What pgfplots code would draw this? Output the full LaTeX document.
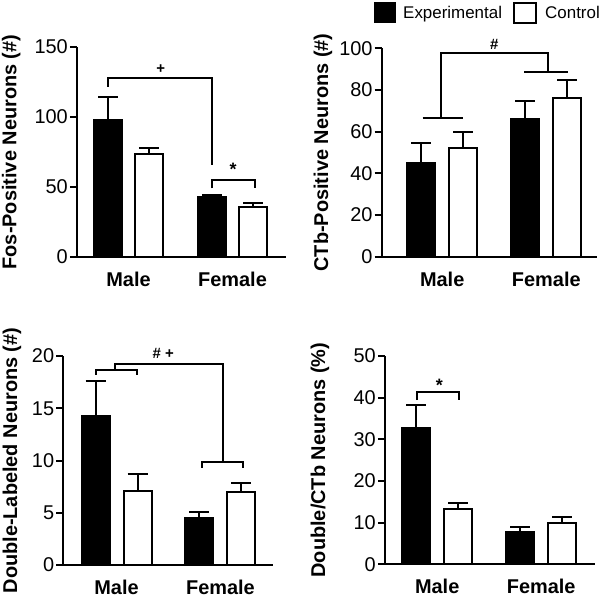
\documentclass[border=0pt]{standalone}
\usepackage{fontspec}
\setmainfont{Liberation Sans}
\usepackage{pgfplots}
\pgfplotsset{compat=1.18}

\pgfplotsset{
  panel/.style={
    scale only axis,
    axis x line=bottom, axis y line=left,
    axis line style={-, line width=2bp},
    enlargelimits=false,
    clip=false,
    xtick={0,1}, xticklabels={Male,Female},
    x tick label style={font=\fontsize{20}{24}\selectfont\bfseries, inner sep=0pt, anchor=north, yshift=-8bp},
    major x tick style={draw=none},
    y tick label style={font=\fontsize{20}{24}\selectfont, inner sep=0pt, xshift=-2bp},
    tick align=outside,
    major tick length=7bp,
    y tick style={line width=2bp, black},
    ymin=0,
    /pgf/number format/assume math mode=true,
  },
  ylab/.style={every axis y label/.style={at={(axis description cs:#1,0.5)}, rotate=90, anchor=center,
    font=\fontsize{20}{24}\selectfont\bfseries}},
  expbar/.style={ybar, fill=black, draw=black, line width=2bp, bar width=28bp, bar shift=0pt,
    error bars/y dir=plus, error bars/y explicit,
    error bars/error bar style={line width=2bp, black},
    error bars/error mark options={line width=2bp, black, mark size=10bp, rotate=90}},
  ctlbar/.style={ybar, fill=white, draw=black, line width=2bp, bar width=28bp, bar shift=0pt,
    error bars/y dir=plus, error bars/y explicit,
    error bars/error bar style={line width=2bp, black},
    error bars/error mark options={line width=2bp, black, mark size=10bp, rotate=90}},
  brk/.style={line width=2bp, black, no markers, sharp plot, forget plot},
}
\tikzset{
  sig/.style={font=\fontsize{15}{18}\selectfont\bfseries, inner sep=0pt},
  star/.style={font=\fontsize{18}{20}\selectfont\bfseries, inner sep=0pt},
}

\begin{document}
\begin{tikzpicture}
\useasboundingbox (0,0) rectangle (600bp,-599bp);

% Legend
\fill[black] (374bp,-2bp) rectangle (396bp,-23bp);
\node[anchor=base west, font=\fontsize{17}{20}\selectfont, inner sep=0pt] at (403bp,-18.5bp) {Experimental};
\draw[line width=2bp] (514bp,-3bp) rectangle (536bp,-23bp);
\node[anchor=base west, font=\fontsize{17}{20}\selectfont, inner sep=0pt] at (545bp,-18.5bp) {Control};

% Panel A
\begin{axis}[panel, ylab=-0.315,
  at={(77bp,-257bp)}, anchor=south west, width=209bp, height=210bp,
  xmin=-0.495, xmax=1.514, ymax=150, ytick={0,50,100,150},
  ylabel={Fos-Positive Neurons (\#)}]
\addplot[expbar] coordinates {(-0.197,98) +- (0,16.5) (0.803,42.6) +- (0,1.7)};
\addplot[ctlbar] coordinates {(0.197,73.6) +- (0,4.0) (1.197,35.9) +- (0,2.4)};
\addplot[brk] coordinates {(-0.197,121.6) (-0.197,128.1) (0.803,128.1) (0.803,65.7)};
\addplot[brk] coordinates {(0.803,49) (0.803,55) (1.216,55) (1.216,49)};
\node[sig] at (axis cs:0.31,134.5) {+};
\node[star] at (axis cs:1.005,62.5) {*};
\end{axis}

% Panel B
\begin{axis}[panel, ylab=-0.273,
  at={(381.7bp,-256.7bp)}, anchor=south west, width=215bp, height=208.4bp,
  xmin=-0.581, xmax=1.484, ymax=100, ytick={0,20,40,60,80,100},
  ylabel={CTb-Positive Neurons (\#)}]
\addplot[expbar] coordinates {(-0.201,44.8) +- (0,9.6) (0.799,66) +- (0,8.7)};
\addplot[ctlbar] coordinates {(0.201,52.3) +- (0,7.7) (1.201,76) +- (0,8.8)};
\addplot[brk] coordinates {(-0.187,66.7) (0.197,66.7)};
\addplot[brk] coordinates {(-0.014,66.7) (-0.014,97.6) (1.019,97.6) (1.019,88.8)};
\addplot[brk] coordinates {(0.786,88.8) (1.206,88.8)};
\node[sig, anchor=base] at (axis cs:0.50,99.2) {\#};
\end{axis}

% Panel C
\begin{axis}[panel, ylab=-0.244,
  at={(63.3bp,-565bp)}, anchor=south west, width=210bp, height=209bp,
  xmin=-0.512, xmax=1.508, ymax=20, ytick={0,5,10,15,20},
  ylabel={Double-Labeled Neurons (\#)}]
\addplot[expbar] coordinates {(-0.202,14.26) +- (0,3.34) (0.798,4.47) +- (0,0.57)};
\addplot[ctlbar] coordinates {(0.202,7.05) +- (0,1.65) (1.202,6.96) +- (0,0.92)};
\addplot[brk] coordinates {(-0.2,18.2) (-0.2,18.7) (0.194,18.7) (0.194,18.2)};
\addplot[brk] coordinates {(-0.014,18.7) (-0.014,19.2) (1.021,19.2) (1.021,9.9)};
\addplot[brk] coordinates {(0.825,9.3) (0.825,9.9) (1.213,9.9) (1.213,9.3)};
\node[sig, anchor=base] at (axis cs:0.45,19.78) {\# +};
\end{axis}

% Panel D
\begin{axis}[panel, ylab=-0.31,
  at={(385bp,-564.3bp)}, anchor=south west, width=210bp, height=208.3bp,
  xmin=-0.502, xmax=1.517, ymax=50, ytick={0,10,20,30,40,50},
  ylabel={Double/CTb Neurons (\%)}]
\addplot[expbar] coordinates {(-0.2,32.8) +- (0,5.4) (0.8,7.8) +- (0,1.2)};
\addplot[ctlbar] coordinates {(0.2,13.2) +- (0,1.6) (1.2,10.0) +- (0,1.4)};
\addplot[brk] coordinates {(-0.198,39.4) (-0.198,41.3) (0.212,41.3) (0.212,39.4)};
\node[star] at (axis cs:0.02,43.0) {*};
\end{axis}
\end{tikzpicture}
\end{document}
